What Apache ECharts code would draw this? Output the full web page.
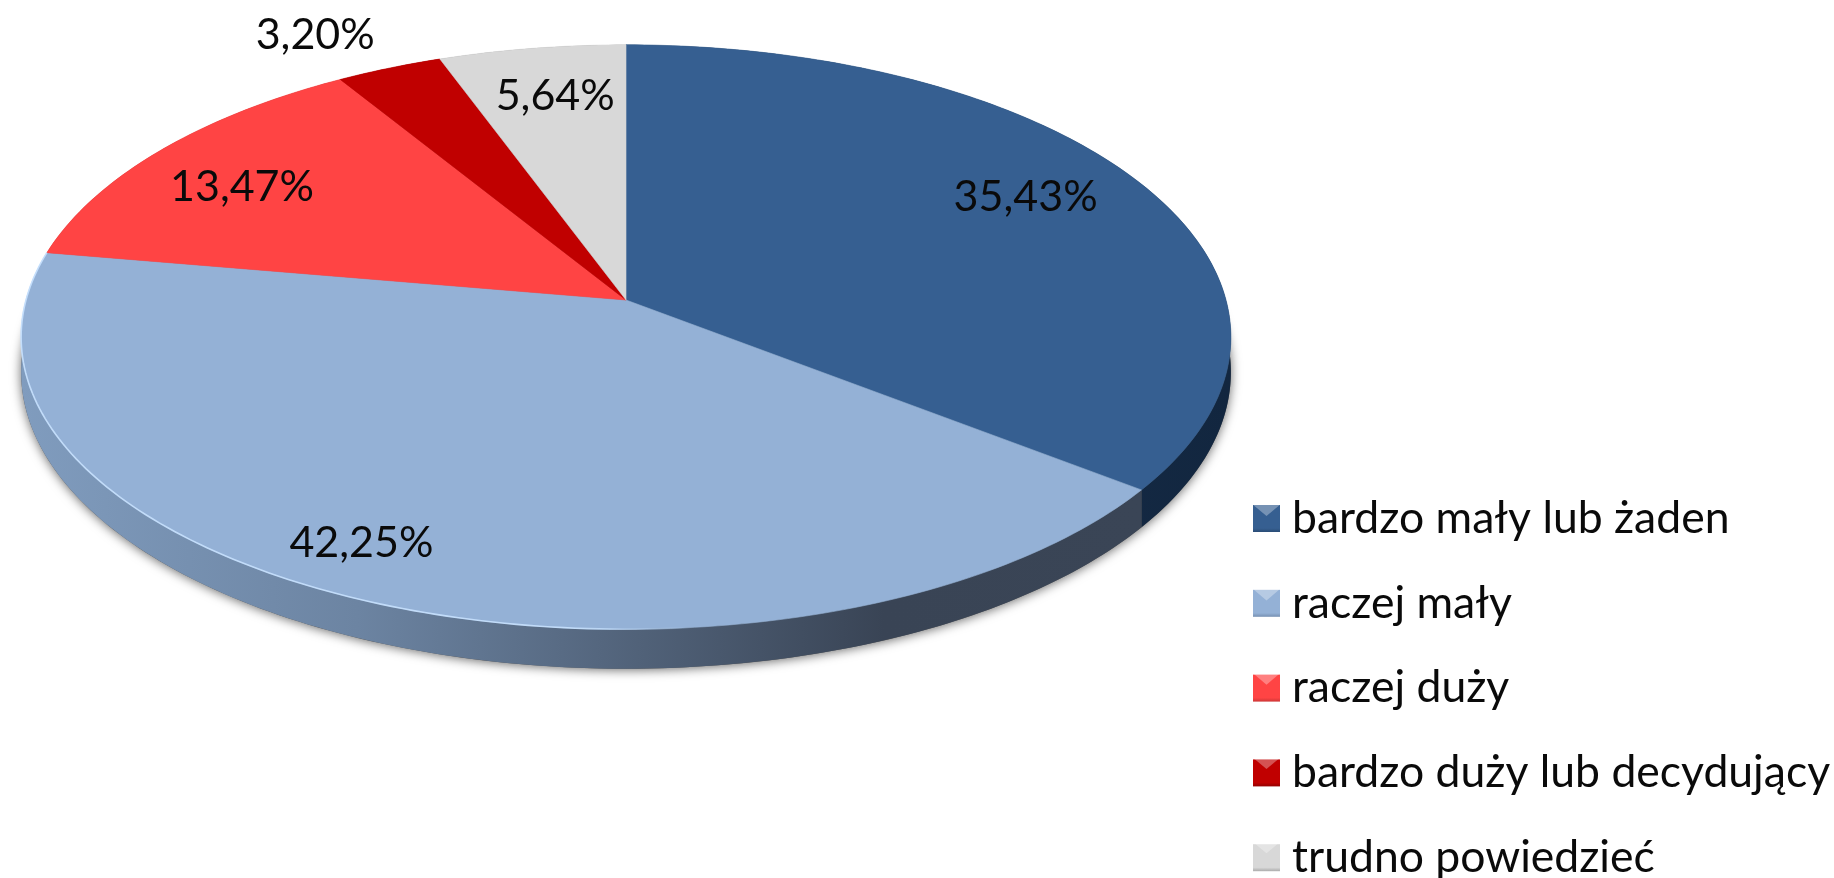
<!DOCTYPE html>
<html><head><meta charset="utf-8">
<style>html,body{margin:0;padding:0;background:#fff}#c{width:1834px;height:878px}</style>
<script src="https://cdn.jsdelivr.net/npm/echarts@6/dist/echarts.min.js"></script>
</head><body><div id="c"></div>
<script>
const categories = ['bardzo mały lub żaden','raczej mały','raczej duży','bardzo duży lub decydujący','trudno powiedzieć'];
const values = [35.43,42.25,13.47,3.20,5.64];
const valueLabels = ['35,43%','42,25%','13,47%','3,20%','5,64%'];

const topColors = ['#365F91','#94B1D6','#FF4444','#C00000','#D8D8D8'];
const FONT = 'Lato, "Open Sans", sans-serif';
const LABEL_SIZE = 43, LEGEND_SIZE = 44.5;
const labelAnchors = [[0.666,-0.358],[-0.441,0.845],[-0.64,-0.393],[-0.518,-0.922],[-0.118,-0.71]];
const grad = (stops,x2,y2)=>new echarts.graphic.LinearGradient(0,0,x2,y2,stops.map((c,i)=>({offset:c[0],color:c[1]})));
const wallFills = [
  grad([[0,'#1A3352'],[1,'#12263F']],1,0),
  grad([[0,'#809CBE'],[0.3,'#6C84A2'],[0.77,'#394455'],[1,'#3A4556']],1,0),
  '#992828','#730000','#828282'
];
const legendFills = [
  ['#4F7BB0','#365F91','#2A4C75'],['#A9C4E6','#94B1D6','#7690B2'],
  ['#FF6060','#FF4444','#CC3636'],['#D81818','#C00000','#930000'],['#E4E4E4','#D8D8D8','#ABABAB']
];
const PERSP = 0.1267, THICK = 0.12;
const total = values.reduce((a,b)=>a+b,0);
const starts = values.map((_,i)=>values.slice(0,i).reduce((a,b)=>a+b,0));

function disc(api,deg,drop){
  const t = deg*Math.PI/180, u = Math.sin(t), v = -Math.cos(t), w = 1-PERSP*v;
  return api.coord([u/w, v/w + (drop? THICK/w : 0)]);
}
function arc(api,a0,a1,drop){
  const pts=[], n=Math.max(2,Math.ceil(Math.abs(a1-a0)));
  for(let k=0;k<=n;k++) pts.push(disc(api,a0+(a1-a0)*k/n,drop));
  return pts;
}
function renderSlice(i){
  return function(params,api){
    const v = api.value(0);
    const a0 = starts[i]/total*360, a1 = a0 + v/total*360;
    const top = arc(api,a0,a1,false);
    const children=[];
    if(i===0){
      children.push({type:'polygon',z2:-1,shape:{points:arc(api,0,360,true)},
        style:{fill:'#555',shadowBlur:11,shadowColor:'rgba(0,0,0,0.6)',shadowOffsetY:1}});
    }
    children.push({type:'polygon',z2:1,shape:{points:top.concat(arc(api,a1,a0,true))},
      style:{fill:wallFills[i]}});
    children.push({type:'polygon',z2:3,shape:{points:[api.coord([0,0])].concat(top)},
      style:{fill:topColors[i],stroke:topColors[i],lineWidth:0.6}});
    if(i===1){
      children.push({type:'polyline',z2:4,shape:{points:top},
        style:{fill:null,lineWidth:1.6,stroke:grad([[0,'rgba(200,226,255,0.9)'],[0.5,'rgba(200,226,255,0.9)'],[0.6,'rgba(200,226,255,0)'],[1,'rgba(200,226,255,0)']],1,0)}});
    }
    const p = api.coord(labelAnchors[i]);
    children.push({type:'text',z2:6,x:p[0],y:p[1],
      style:{text:valueLabels[i],fill:'#0a0a0a',font:LABEL_SIZE+'px '+FONT,align:'center',verticalAlign:'middle'}});
    return {type:'group',children};
  };
}
const LEGEND_X = 1253, LEGEND_TOP = 496, ROW_H = 44.5, ROW_GAP = 39.8, ICON_W = 27, ICON_H = 27;
const chart = echarts.init(document.getElementById('c'),null,{renderer:'canvas',width:1834,height:878});
chart.setOption({
  backgroundColor:'#fff',
  animation:false,
  grid:{left:26,width:1200,top:12.5,height:575},
  xAxis:{type:'value',min:-1,max:1,show:false},
  yAxis:{type:'value',min:-1,max:1,inverse:true,show:false},
  legend:{
    orient:'vertical',left:LEGEND_X,top:LEGEND_TOP,height:420,padding:0,itemWidth:ICON_W,itemHeight:ICON_H,itemGap:ROW_GAP,selectedMode:false,
    textStyle:{fontFamily:FONT,fontSize:LEGEND_SIZE,color:'#0a0a0a',padding:[0,0,0,7]},
    data:categories.map((name,i)=>({name,icon:'rect',itemStyle:{color:grad([[0,legendFills[i][1]],[0.86,legendFills[i][1]],[1,legendFills[i][2]]],0,1)}}))
  },
  graphic:categories.map((name,i)=>{
    const y0 = LEGEND_TOP + (ROW_H-ICON_H)/2 + i*(ROW_H+ROW_GAP);
    return {type:'polygon',silent:true,z:100,
      shape:{points:[[LEGEND_X,y0],[LEGEND_X+ICON_W,y0],[LEGEND_X+ICON_W/2,y0+ICON_H*0.42]]},
      style:{fill:'rgba(255,255,255,0.32)'}};
  }),
  series:categories.map((name,i)=>({
    type:'custom',name,coordinateSystem:'cartesian2d',clip:false,silent:true,
    itemStyle:{color:topColors[i]},
    renderItem:renderSlice(i),
    data:[[values[i],0]]
  }))
});
</script></body></html>
